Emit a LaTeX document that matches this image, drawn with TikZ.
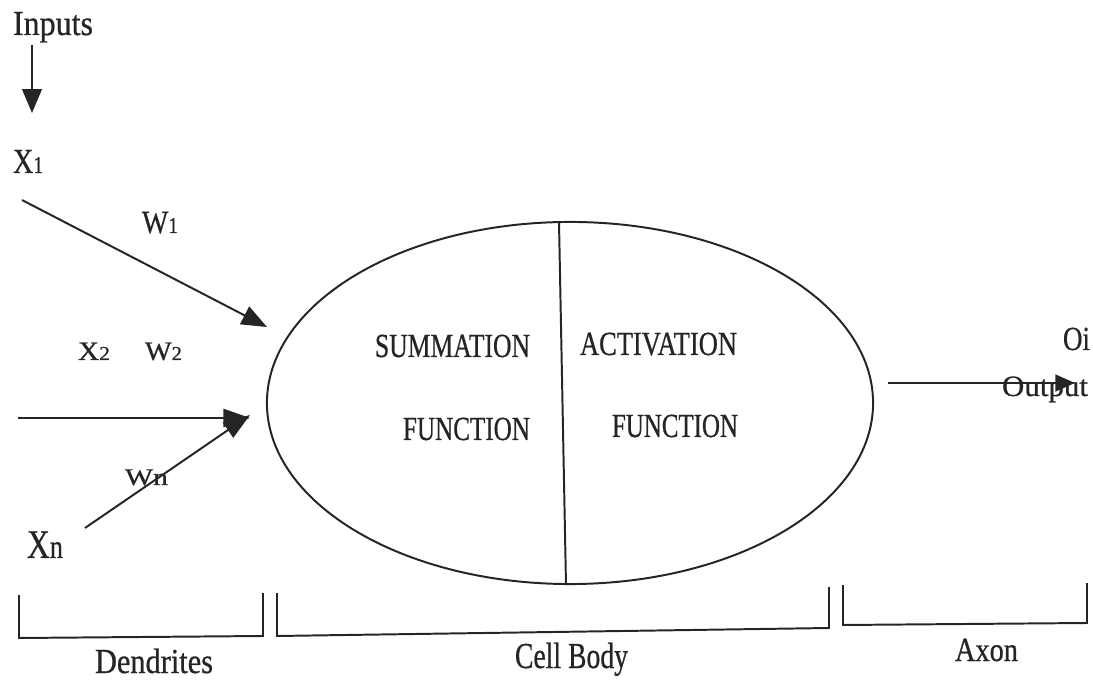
\documentclass[tikz,border=0pt]{standalone}
\usepackage{fontspec}
\setmainfont{Liberation Serif}[FakeBold=0.7]
\usepackage{graphicx}
\usetikzlibrary{arrows.meta,shapes.geometric}
\newlength\pxl \setlength\pxl{0.025cm}
\newcommand\lbl[3]{\resizebox{#1\pxl}{\height}{\fontsize{#2}{#2}\selectfont #3}}
\newcommand\subsz[2]{{\fontsize{#1}{#1}\selectfont #2}}
\definecolor{ink}{RGB}{38,36,36}
\begin{document}
\begin{tikzpicture}[x=0.025cm,y=-0.025cm,
  txt/.style={inner sep=0pt, outer sep=0pt, anchor=base west, text=ink},
  ln/.style={draw=ink, line width=1.4pt},
  arr/.style={ln, -{Triangle[length=17pt,width=14pt,fill=ink]}},
]
\useasboundingbox (0,0) rectangle (1093,681);

% labels
\node[txt] (inputs) at (13,35) {\lbl{80}{25}{Inputs}};
\node[txt] (x1) at (13,173) {\lbl{30}{25}{X\subsz{17}{1}}};
\node[txt] (w1) at (142,233) {\lbl{36}{23}{W\subsz{16}{1}}};
\node[txt] (x2) at (78,360) {\lbl{32}{19}{X\subsz{14}{2}}};
\node[txt] (w2) at (145,360) {\lbl{37}{19}{W\subsz{14}{2}}};
\node[txt] (wn) at (125,485) {\lbl{43}{17}{Wn}};
\node[txt] (xn) at (27,558) {\lbl{36}{29}{X\subsz{24}{n}}};
\node[txt] (sum) at (375,357) {\lbl{155}{24}{SUMMATION}};
\node[txt] (act) at (580,355) {\lbl{157}{24}{ACTIVATION}};
\node[txt] (fn1) at (403,440) {\lbl{127}{24}{FUNCTION}};
\node[txt] (fn2) at (612,437) {\lbl{126}{24}{FUNCTION}};
\node[txt] (oi) at (1063,350) {\lbl{27}{24}{Oi}};
\node[txt] (out) at (1002,396) {\lbl{86}{21}{Output}};
\node[txt] (dend) at (95,673) {\lbl{118}{25}{Dendrites}};
\node[txt] (cellb) at (515,668) {\lbl{113}{26}{Cell Body}};
\node[txt] (axon) at (955,661) {\lbl{63}{24}{Axon}};

% cell body
\node[ellipse, ln, minimum width=15.15cm, minimum height=9.05cm, inner sep=0pt] (cell) at (570,403) {};
\coordinate (divtop) at (559,222);
\coordinate (divbot) at (566,585);
\draw[ln] (divtop) -- (divbot);

% arrows
\coordinate (inA) at (32,45);
\coordinate (inB) at (32,113);
\draw[arr] (inA) -- (inB);

\coordinate (x1s) at (22,200);
\coordinate (x1t) at (267,327);
\draw[ln, -{Triangle[length=18pt,width=14pt,fill=ink]}] (x1s) -- (x1t);

\coordinate (x2s) at (18,418);
\coordinate (x2t) at (250,418);
\draw[ln, -{Triangle[length=19pt,width=13pt,fill=ink]}] (x2s) -- (x2t);

\coordinate (xns) at (85,528);
\coordinate (xnt) at (250,415);
\draw[ln, -{Triangle[length=19pt,width=13pt,fill=ink]}] (xns) -- (xnt);

\coordinate (outs) at (888,383);
\coordinate (outt) at (1075,383);
\draw[ln, -{Triangle[length=14pt,width=12pt,fill=ink]}] (outs) -- (outt);

% brackets
\draw[ln] (19,595) -- (19,638) -- (263,636) -- (263,593);
\draw[ln] (277,593) -- (277,636) -- (829,628) -- (829,587);
\draw[ln] (843,585) -- (843,625) -- (1087,623) -- (1087,583);
\end{tikzpicture}
\end{document}
